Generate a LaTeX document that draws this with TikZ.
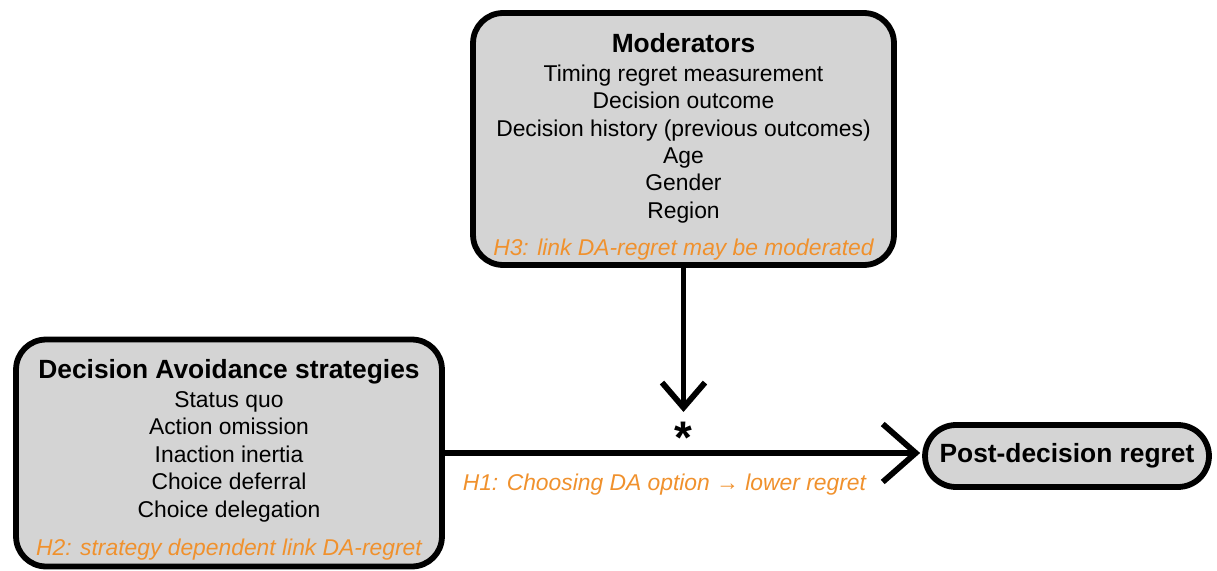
\documentclass[tikz,border=0pt]{standalone}
\usepackage{fontspec}
\setmainfont{Liberation Sans}
\usetikzlibrary{arrows.meta}
\definecolor{boxgray}{RGB}{212,212,212}
\definecolor{hypo}{RGB}{240,145,45}
\newcommand{\boxtitle}[1]{{\fontsize{15}{18}\selectfont\bfseries #1}}
\newcommand{\hyp}[1]{{\color{hypo}\itshape #1}}
\tikzset{
  box/.style={draw,line width=3.3pt,fill=boxgray,rounded corners=0.6cm,inner sep=0pt},
  boxtext/.style={align=center,inner sep=0pt,font=\fontsize{13}{15.6}\selectfont},
  link/.style={line width=3.3pt}
}
\begin{document}
\begin{tikzpicture}[x=0.02cm,y=-0.02cm]
\useasboundingbox (0,0) rectangle (1217,571);
\node[box,minimum width=8.42cm,minimum height=5.04cm] (mod) at (683.5,139) {};
\node[boxtext] (modtext) at (683.5,146.5) {\boxtitle{Moderators}\\[1pt] Timing regret measurement\\ Decision outcome\\ Decision history (previous outcomes)\\ Age\\ Gender\\ Region\\[5.5pt] \hyp{H3: link DA-regret may be moderated}};
\node[box,minimum width=8.52cm,minimum height=4.54cm] (da) at (229,453) {};
\node[boxtext] (datext) at (229,460) {\boxtitle{Decision Avoidance strategies}\\[1pt] Status quo\\ Action omission\\ Inaction inertia\\ Choice deferral\\ Choice delegation\\[6.5pt] \hyp{H2: strategy dependent link DA-regret}};
\node[box,rounded corners=0.62cm,minimum width=5.68cm,minimum height=1.24cm] (pdr) at (1067,456) {\boxtitle{Post-decision regret}};
\node[inner sep=0pt,anchor=north,font=\fontsize{26}{26}\selectfont\bfseries] (star) at (683.5,422) {*};
\coordinate (startip) at (683.5,412);
\draw[link,-{Straight Barb[length=0.5cm,width=0.86cm]}] (mod.south) -- (startip);
\draw[link,-{Straight Barb[length=0.66cm,width=1.16cm]},shorten >=0.04cm] (da.east) -- node[pos=0.46,yshift=-18pt,font=\fontsize{13}{15.6}\selectfont] (h1) {\hyp{H1: Choosing DA option → lower regret}} (da.east -| pdr.west);
\end{tikzpicture}
\end{document}
